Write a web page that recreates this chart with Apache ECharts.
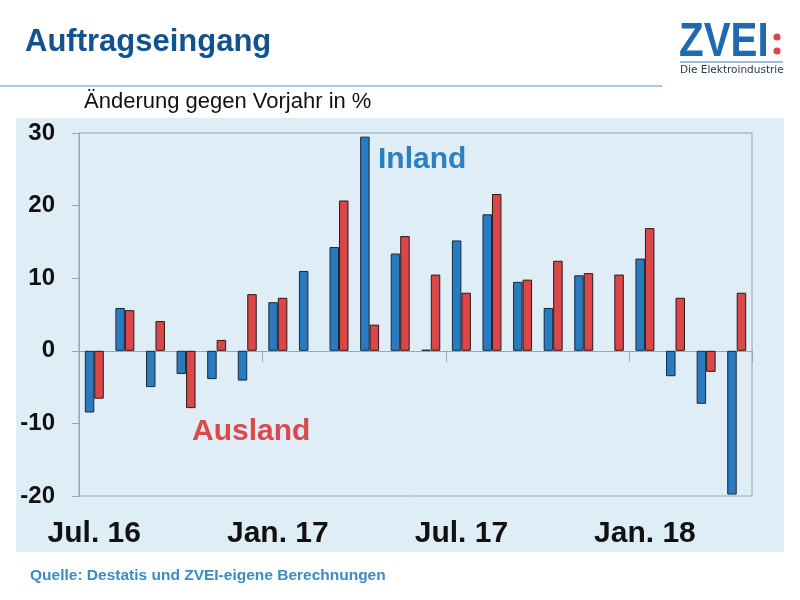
<!DOCTYPE html>
<html>
<head>
<meta charset="utf-8">
<title>Auftragseingang</title>
<script src="https://cdn.jsdelivr.net/npm/echarts@6/dist/echarts.min.js"></script>
<style>
  html, body { margin: 0; padding: 0; background: #fff; }
  #chart { width: 800px; height: 600px; }
</style>
</head>
<body>
<div id="chart"></div>
<script>
// Monate Jul. 16 bis Apr. 18
const months = [
  "Jul. 16", "Aug. 16", "Sep. 16", "Okt. 16", "Nov. 16", "Dez. 16",
  "Jan. 17", "Feb. 17", "Mär. 17", "Apr. 17", "Mai. 17", "Jun. 17",
  "Jul. 17", "Aug. 17", "Sep. 17", "Okt. 17", "Nov. 17", "Dez. 17",
  "Jan. 18", "Feb. 18", "Mär. 18", "Apr. 18"
];

// Änderung gegen Vorjahr in %
const inland = [
  -8.5, 5.9, -5.0, -3.2, -3.9, -4.1,
  6.7, 11.0, 14.3, 29.5, 13.4, 0.15,
  15.2, 18.8, 9.5, 5.9, 10.4, null,
  12.7, -3.5, -7.3, -19.8
];
const ausland = [
  -6.6, 5.6, 4.1, -7.9, 1.5, 7.8,
  7.3, null, 20.7, 3.6, 15.8, 10.5,
  8.0, 21.6, 9.8, 12.4, 10.7, 10.5,
  16.9, 7.3, -2.9, 8.0
];

const yTicks = { min: -20, max: 30, step: 10 };

const FONT = "Liberation Sans, Arial, sans-serif";
const BLUE = "#2a7abf";
const RED = "#db4748";
const AXIS = "#8fa9b7";

const chart = echarts.init(document.getElementById("chart"));

let option = {
  backgroundColor: "#ffffff",
  animation: false,
  textStyle: { fontFamily: FONT },
  graphic: [
    // heller Hintergrund hinter dem Diagramm
    {
      type: "rect", z: -10, silent: true,
      shape: { x: 16, y: 118, width: 768, height: 434 },
      style: { fill: "#deedf6" }
    },
    {
      type: "text", left: 25, top: 27,
      style: { text: "Auftragseingang", font: "bold 31px " + FONT, fill: "#12528f" }
    },
    {
      type: "line", silent: true,
      shape: { x1: 0, y1: 86, x2: 662, y2: 86 },
      style: { stroke: "#5a93b8", lineWidth: 1.2 }
    },
    {
      type: "text", left: 84, top: 91,
      style: { text: "Änderung gegen Vorjahr in %", font: "22px " + FONT, fill: "#111" }
    },
    // Logo
    {
      type: "text", x: 679, y: 19, scaleX: 0.84,
      style: { text: "ZVEI", font: "bold 48px " + FONT, fill: "#1f69ae" }
    },
    { type: "circle", shape: { cx: 777, cy: 37, r: 3.6 }, style: { fill: "#e0444e" } },
    { type: "circle", shape: { cx: 777, cy: 51, r: 3.6 }, style: { fill: "#e0444e" } },
    {
      type: "line", silent: true,
      shape: { x1: 680, y1: 62, x2: 783, y2: 62 },
      style: { stroke: "#3c7fb8", lineWidth: 1 }
    },
    {
      type: "text", x: 680, y: 65,
      style: { text: "Die Elektroindustrie", font: "10.5px DejaVu Sans, sans-serif", fill: "#2a3a4a" }
    },
    // Reihenbeschriftungen
    {
      type: "text", left: 378, top: 145,
      style: { text: "Inland", font: "bold 30px " + FONT, fill: "#2c80c2" }
    },
    {
      type: "text", left: 192, top: 417,
      style: { text: "Ausland", font: "bold 30px " + FONT, fill: "#d94a4c" }
    },
    {
      type: "text", left: 30, top: 568,
      style: { text: "Quelle: Destatis und ZVEI-eigene Berechnungen", font: "bold 15.5px " + FONT, fill: "#3a8cc3" }
    }
  ],
  grid: {
    left: 79, right: 48, top: 133, bottom: 104,
    show: true,
    backgroundColor: "transparent",
    borderColor: AXIS,
    borderWidth: 1
  },
  xAxis: [
    {
      type: "category",
      data: months,
      position: "bottom",
      axisLine: { show: false, onZero: false },
      axisTick: { show: false },
      axisLabel: {
        interval: 5,
        margin: 23,
        color: "#111",
        fontSize: 30,
        fontWeight: "bold",
        fontFamily: FONT
      },
      splitLine: { show: false }
    },
    {
      // Nulllinie mit Halbjahresstrichen
      type: "category",
      data: months,
      position: "bottom",
      axisLine: { show: true, onZero: true, lineStyle: { color: AXIS, width: 1 } },
      axisTick: {
        show: true,
        length: 11,
        interval: function (index) { return index % 6 === 0 && index > 0; },
        lineStyle: { color: AXIS }
      },
      axisLabel: { show: false },
      splitLine: { show: false }
    }
  ],
  yAxis: {
    type: "value",
    min: yTicks.min,
    max: yTicks.max,
    interval: yTicks.step,
    axisLine: { show: true, lineStyle: { color: AXIS } },
    axisTick: { show: true, length: 7, lineStyle: { color: AXIS } },
    axisLabel: {
      margin: 24,
      color: "#111",
      fontSize: 24,
      fontWeight: "bold",
      fontFamily: FONT
    },
    splitLine: { show: false }
  },
  series: [
    {
      name: "Inland",
      type: "bar",
      xAxisIndex: 0,
      data: inland,
      barGap: "0%",
      barCategoryGap: "38%",
      itemStyle: { color: BLUE, borderColor: "#1b2a38", borderWidth: 1 }
    },
    {
      name: "Ausland",
      type: "bar",
      xAxisIndex: 0,
      data: ausland,
      barGap: "0%",
      barCategoryGap: "38%",
      itemStyle: { color: RED, borderColor: "#2a1a1a", borderWidth: 1 }
    }
  ]
};

chart.setOption(option);
</script>
</body>
</html>
